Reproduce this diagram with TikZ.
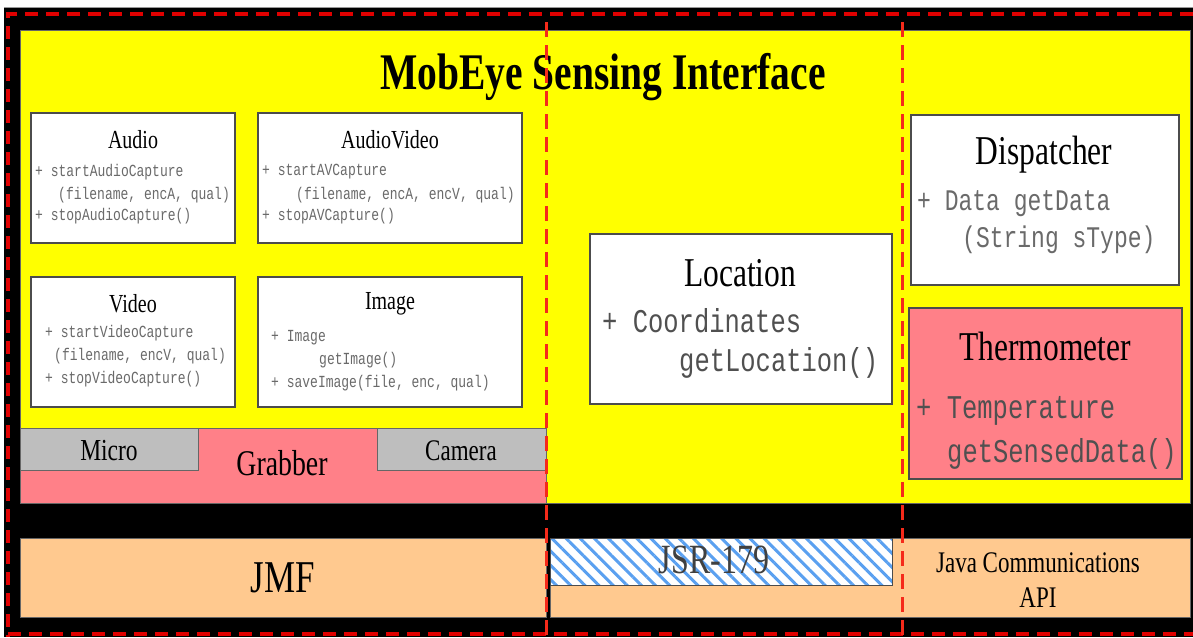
\documentclass[tikz,border=0pt]{standalone}
\usepackage{fontspec}
\setmainfont{Liberation Serif}
\setmonofont{Liberation Mono}
\usetikzlibrary{patterns.meta}
\definecolor{ylw}{HTML}{FFFF00}
\definecolor{pinkf}{HTML}{FF8088}
\definecolor{peach}{HTML}{FFC98F}
\definecolor{grayf}{HTML}{BEBEBE}
\definecolor{redd}{HTML}{E00000}
\definecolor{redv}{HTML}{F52A1A}
\definecolor{hatchc}{HTML}{5AA0F0}
\definecolor{mtxt}{HTML}{6A6A6A}
\definecolor{mtxtd}{HTML}{505050}
\newcommand{\tl}[1]{\scalebox{1}[1.3]{#1}}
\begin{document}
\begin{tikzpicture}[x=1pt,y=-1pt,
  area/.style={draw=black!60, line width=1pt, anchor=north west, inner sep=0pt, outer sep=0pt},
  cls/.style={draw=black!70, line width=1.5pt, fill=white, anchor=north west, inner sep=0pt, outer sep=0pt},
  ttl/.style={font=\fontsize{20}{20}\selectfont, inner sep=0pt},
  bigttl/.style={font=\fontsize{31.5}{31.5}\selectfont, inner sep=0pt},
  mth/.style={font=\ttfamily\fontsize{13}{13}\selectfont, text=mtxt, anchor=west, inner sep=0pt},
  bigmth/.style={font=\ttfamily\fontsize{25.5}{25.5}\selectfont, text=mtxtd, anchor=west, inner sep=0pt},
  dmth/.style={font=\ttfamily\fontsize{23}{23}\selectfont, text=mtxt, anchor=west, inner sep=0pt},
  lbl/.style={inner sep=0pt},
  rdash/.style={draw=redd, line width=4.5pt, dash pattern=on 13pt off 8pt},
  vdash/.style={draw=redv, line width=3pt, dash pattern=on 15pt off 8pt}]
% background
\useasboundingbox (0,0) rectangle (1193,637);
\fill[white] (0,0) rectangle (1193,637);
\fill[black] (4,8) rectangle (1193,637);
\draw[black!40, line width=0.6pt] (4,7.5) -- (1193,7.5);
% sensing interface
\node[area, fill=ylw, minimum width=1170pt, minimum height=473pt] (sensing) at (20,30) {};
\node[lbl, font=\bfseries\fontsize{39.5}{39.5}\selectfont] (title) at (603,77) {\tl{MobEye Sensing Interface}};
% grabber
\node[area, fill=pinkf, minimum width=526pt, minimum height=75pt] (grabber) at (20,428) {};
\node[lbl, font=\fontsize{27.8}{27.8}\selectfont] (grabbert) at (282,463) {\tl{Grabber}};
\node[area, fill=grayf, minimum width=178pt, minimum height=42pt] (micro) at (20,428) {};
\node[lbl, font=\fontsize{23.5}{23.5}\selectfont] (microt) at (109,451) {\tl{Micro}};
\node[area, fill=grayf, minimum width=169pt, minimum height=42pt] (camera) at (377,428) {};
\node[lbl, font=\fontsize{23}{23}\selectfont] (camerat) at (461,451) {\tl{Camera}};
% Audio
\node[cls, minimum width=204pt, minimum height=130pt] (audio) at (31,113) {};
\node[ttl] (audiot) at (133,140) {\tl{Audio}};
\node[mth] (audio1) at (35,172) {\tl{+ startAudioCapture}};
\node[mth] (audio2) at (58,195) {\tl{(filename, encA, qual)}};
\node[mth] (audio3) at (35,216) {\tl{+ stopAudioCapture()}};
% AudioVideo
\node[cls, minimum width=264pt, minimum height=130pt] (av) at (258,113) {};
\node[ttl] (avt) at (390,140) {\tl{AudioVideo}};
\node[mth] (av1) at (262,172) {\tl{+ startAVCapture}};
\node[mth] (av2) at (296,195) {\tl{(filename, encA, encV, qual)}};
\node[mth] (av3) at (262,216) {\tl{+ stopAVCapture()}};
% Video
\node[cls, minimum width=204pt, minimum height=130pt] (video) at (31,277) {};
\node[ttl] (videot) at (133,304) {\tl{Video}};
\node[mth] (video1) at (45,333) {\tl{+ startVideoCapture}};
\node[mth] (video2) at (54,356) {\tl{(filename, encV, qual)}};
\node[mth] (video3) at (45,379) {\tl{+ stopVideoCapture()}};
% Image
\node[cls, minimum width=264pt, minimum height=130pt] (image) at (258,277) {};
\node[ttl] (imaget) at (390,304) {\tl{Image}};
\node[mth] (image1) at (271,338) {\tl{+ Image}};
\node[mth] (image2) at (319,360) {\tl{getImage()}};
\node[mth] (image3) at (271,383) {\tl{+ saveImage(file, enc, qual)}};
% Location
\node[cls, minimum width=302pt, minimum height=170pt] (location) at (590,234) {};
\node[bigttl] (locationt) at (740,273) {\tl{Location}};
\node[bigmth] (location1) at (602,321) {\tl{+ Coordinates}};
\node[bigmth] (location2) at (679,363) {\tl{getLocation()}};
% Dispatcher
\node[cls, minimum width=268pt, minimum height=170pt] (dispatcher) at (911,115) {};
\node[bigttl] (dispatchert) at (1044,155) {\tl{Dispatcher}};
\node[dmth] (dispatcher1) at (917,204) {\tl{+ Data getData}};
\node[dmth] (dispatcher2) at (962,240) {\tl{(String sType)}};
% Thermometer
\node[cls, fill=pinkf, minimum width=273pt, minimum height=171pt] (thermo) at (909,308) {};
\node[bigttl] (thermot) at (1045,346) {\tl{Thermometer}};
\node[bigmth] (thermo1) at (916,411) {\tl{+ Temperature}};
\node[bigmth] (thermo2) at (947,454) {\tl{getSensedData()}};
% bottom layer
\node[area, fill=peach, minimum width=526pt, minimum height=79pt] (jmf) at (20,538) {};
\node[lbl, font=\fontsize{35}{35}\selectfont] (jmft) at (283,578) {\tl{JMF}};
\node[area, fill=peach, minimum width=640pt, minimum height=79pt] (jca) at (550,538) {};
\node[area, fill=white, minimum width=342pt, minimum height=47pt] (jsr) at (550,538) {};
\fill[pattern={Lines[angle=-45, distance=10pt, line width=3pt]}, pattern color=hatchc] (jsr.north west) rectangle (jsr.south east);
\draw[black!70, line width=1pt] (jsr.north west) rectangle (jsr.south east);
\node[lbl, font=\fontsize{32}{32}\selectfont, text=black!75] (jsrt) at (714,560) {\tl{JSR-179}};
\node[lbl, font=\fontsize{23}{23}\selectfont] (jcat1) at (1038,563) {\tl{Java Communications}};
\node[lbl, font=\fontsize{23}{23}\selectfont] (jcat2) at (1038,598) {\tl{API}};
% red dashed borders
\draw[rdash] (1193,14) -- (8,14) -- (8,637);
\draw[rdash] (8,634) -- (1193,634);
\draw[vdash] (546,22) -- (546,637);
\draw[vdash] (902,22) -- (902,637);
\end{tikzpicture}
\end{document}
